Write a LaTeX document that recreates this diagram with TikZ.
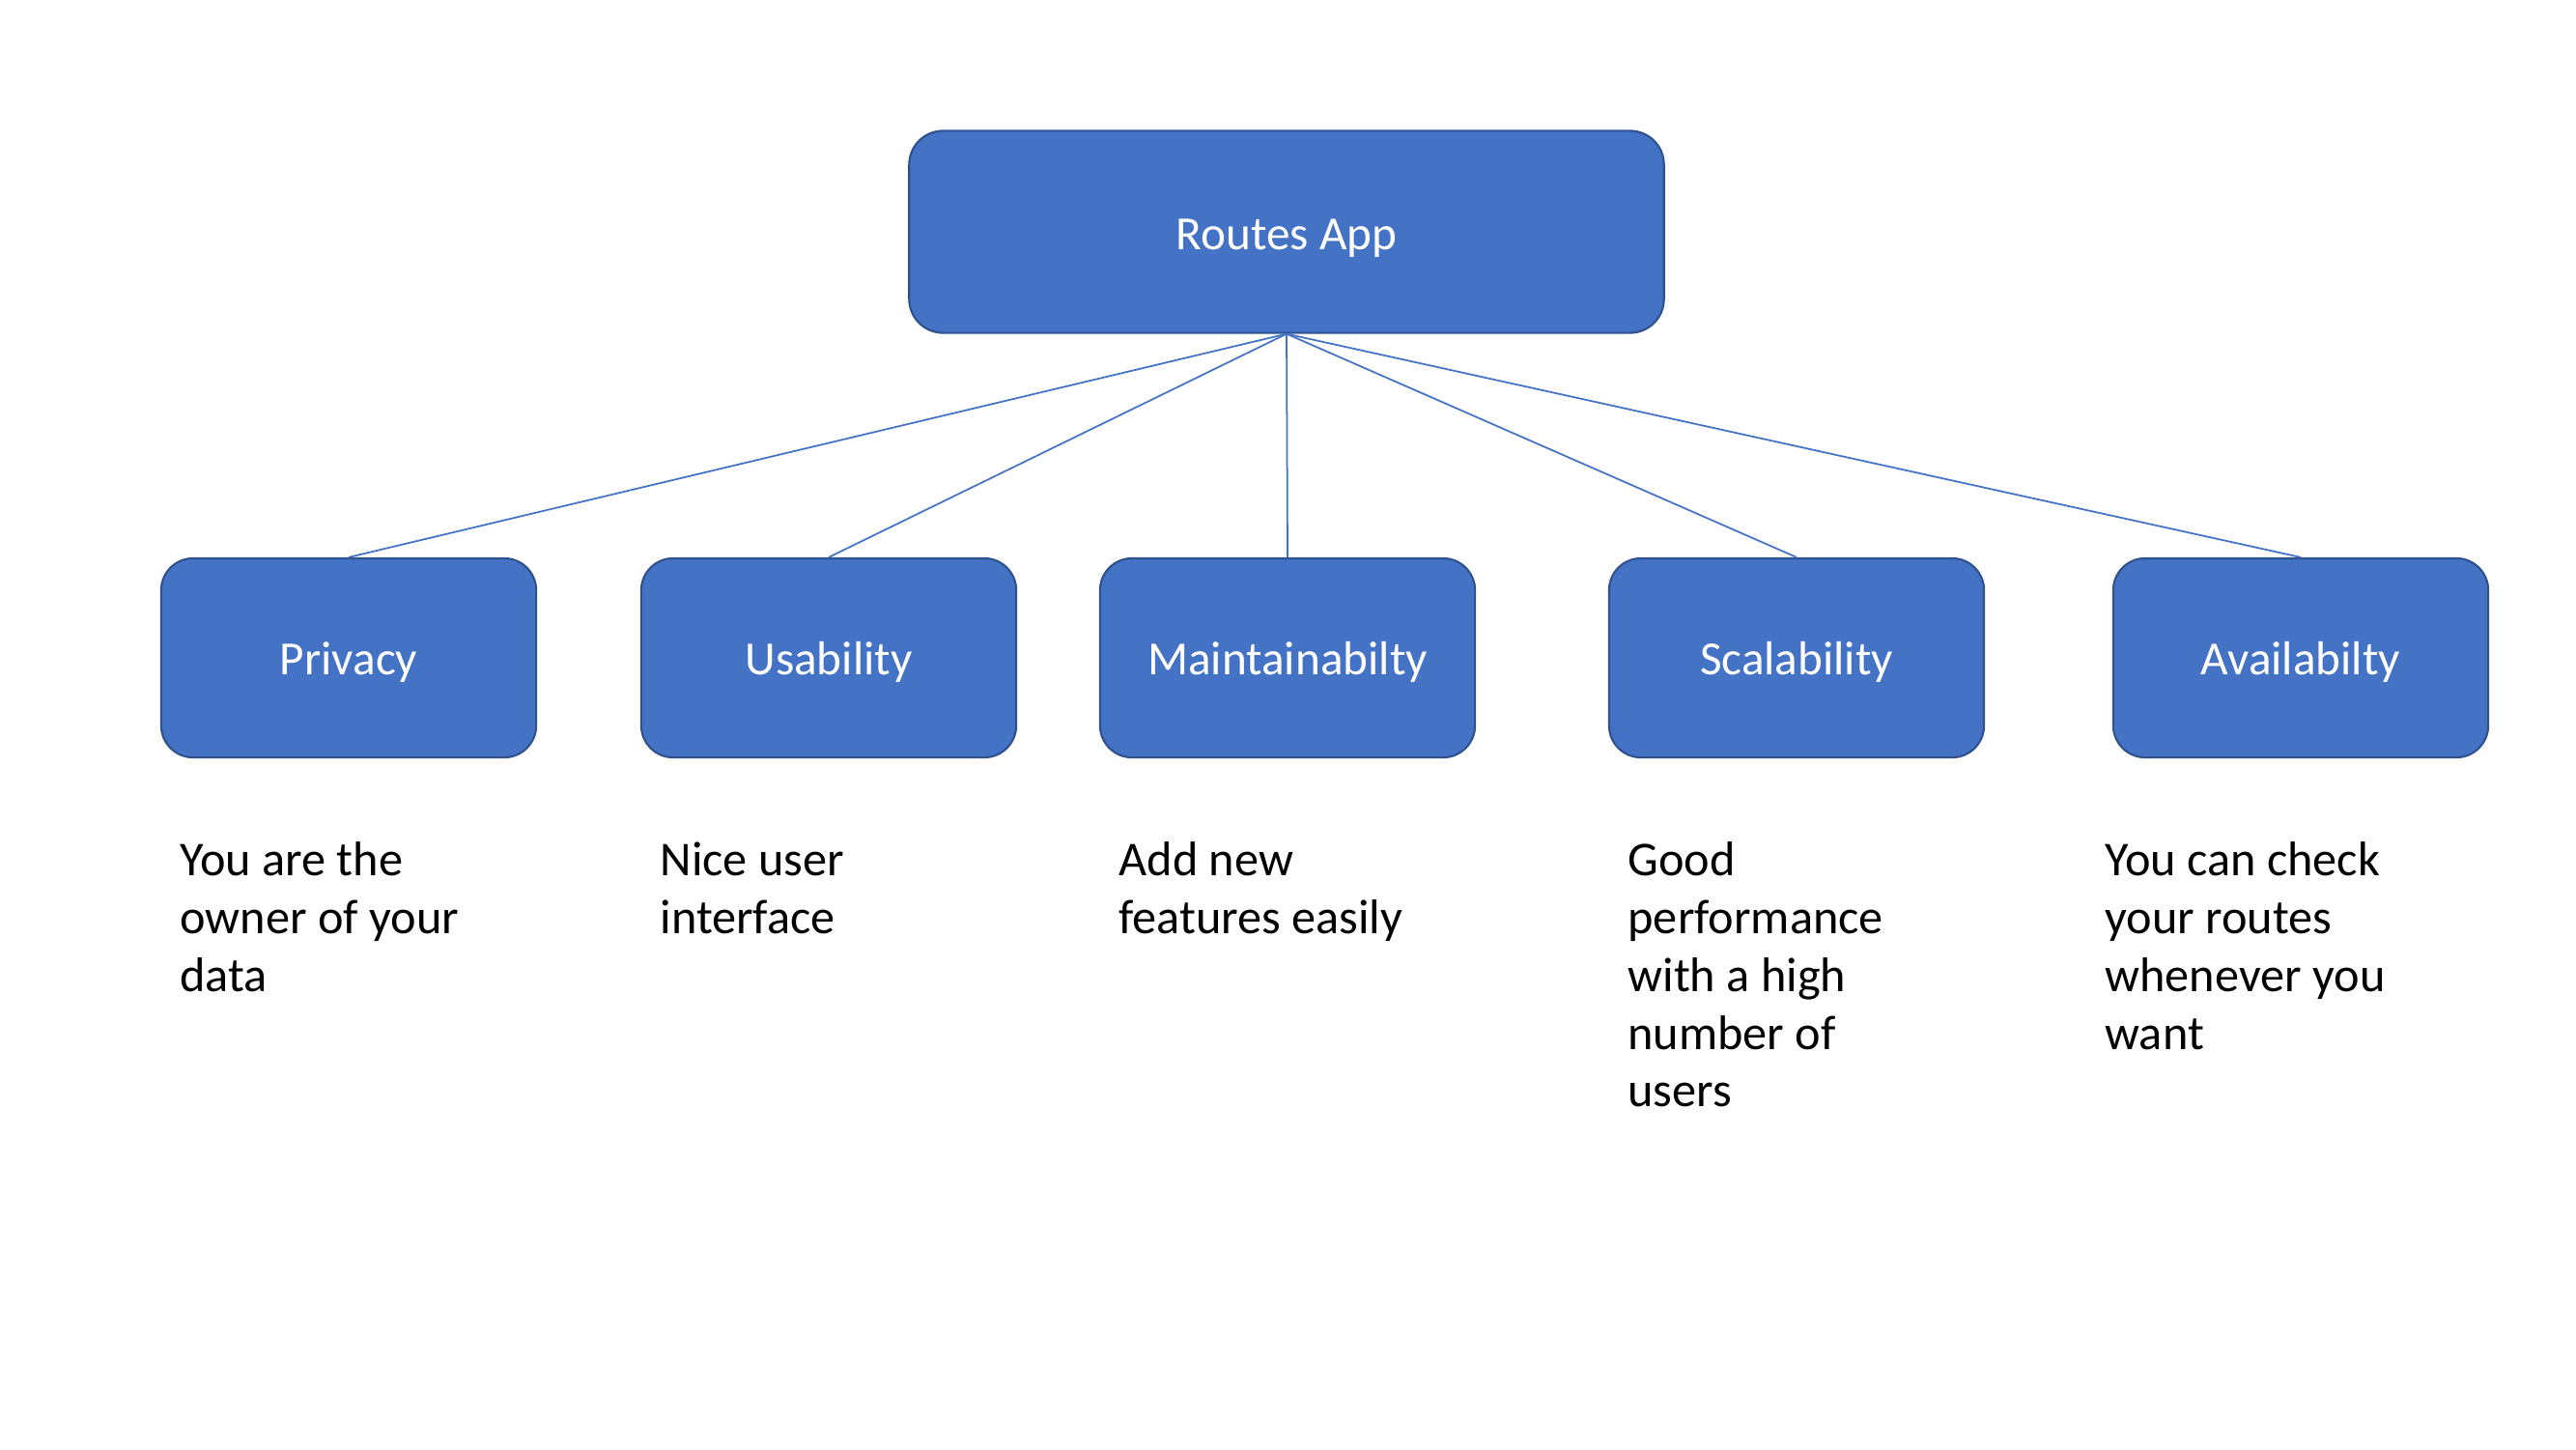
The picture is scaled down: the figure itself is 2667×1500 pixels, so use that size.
\documentclass[tikz,border=0pt]{standalone}
\usepackage{fontspec}
\setmainfont{Carlito}
\usetikzlibrary{positioning}

\definecolor{boxblue}{HTML}{4472C4}
\definecolor{boxedge}{HTML}{2F528F}

\tikzset{
  topbox/.style={draw=boxedge, fill=boxblue, line width=0.6pt, rounded corners=0.35cm,
    minimum width=7.81cm, minimum height=2.09cm, text=white,
    text height=13.5pt, text depth=3pt,
    font=\fontsize{14}{17}\selectfont},
  quality/.style={draw=boxedge, fill=boxblue, line width=0.6pt, rounded corners=0.33cm,
    minimum width=3.88cm, minimum height=2.06cm, text=white,
    text height=13pt, text depth=3pt,
    font=\fontsize{14}{17}\selectfont},
  desc/.style={anchor=north west, inner sep=0pt, align=left,
    font=\fontsize{14.3}{17}\selectfont},
  link/.style={boxblue, line width=0.5pt}
}

\begin{document}
\begin{tikzpicture}[x=0.01cm, y=-0.01cm]
\useasboundingbox (0,0) rectangle (2667,1500);

\node[topbox] (app) at (1332,240) {Routes App};

\node[quality] (privacy) at (361,681) {Privacy};
\node[quality] (usability) at (858,681) {Usability};
\node[quality] (maint) at (1333,681) {Maintainabilty};
\node[quality] (scal) at (1860,681) {Scalability};
\node[quality] (avail) at (2382,681) {Availabilty};

\draw[link] (app.south) -- (privacy.north);
\draw[link] (app.south) -- (usability.north);
\draw[link] (app.south) -- (maint.north);
\draw[link] (app.south) -- (scal.north);
\draw[link] (app.south) -- (avail.north);

% descriptions under the boxes
\node[desc] (privacy-txt) at ([shift={(20,79)}]privacy.south west) {\strut You are the\\owner of your\\data};
\node[desc] (usability-txt) at ([shift={(20,79)}]usability.south west) {\strut Nice user\\interface};
\node[desc] (maint-txt) at ([shift={(20,79)}]maint.south west) {\strut Add new\\features easily};
\node[desc] (scal-txt) at ([shift={(20,79)}]scal.south west) {\strut Good\\performance\\with a high\\number of\\users};
\node[desc] (avail-txt) at ([shift={(-8,79)}]avail.south west) {\strut You can check\\your routes\\whenever you\\want};
\end{tikzpicture}
\end{document}
